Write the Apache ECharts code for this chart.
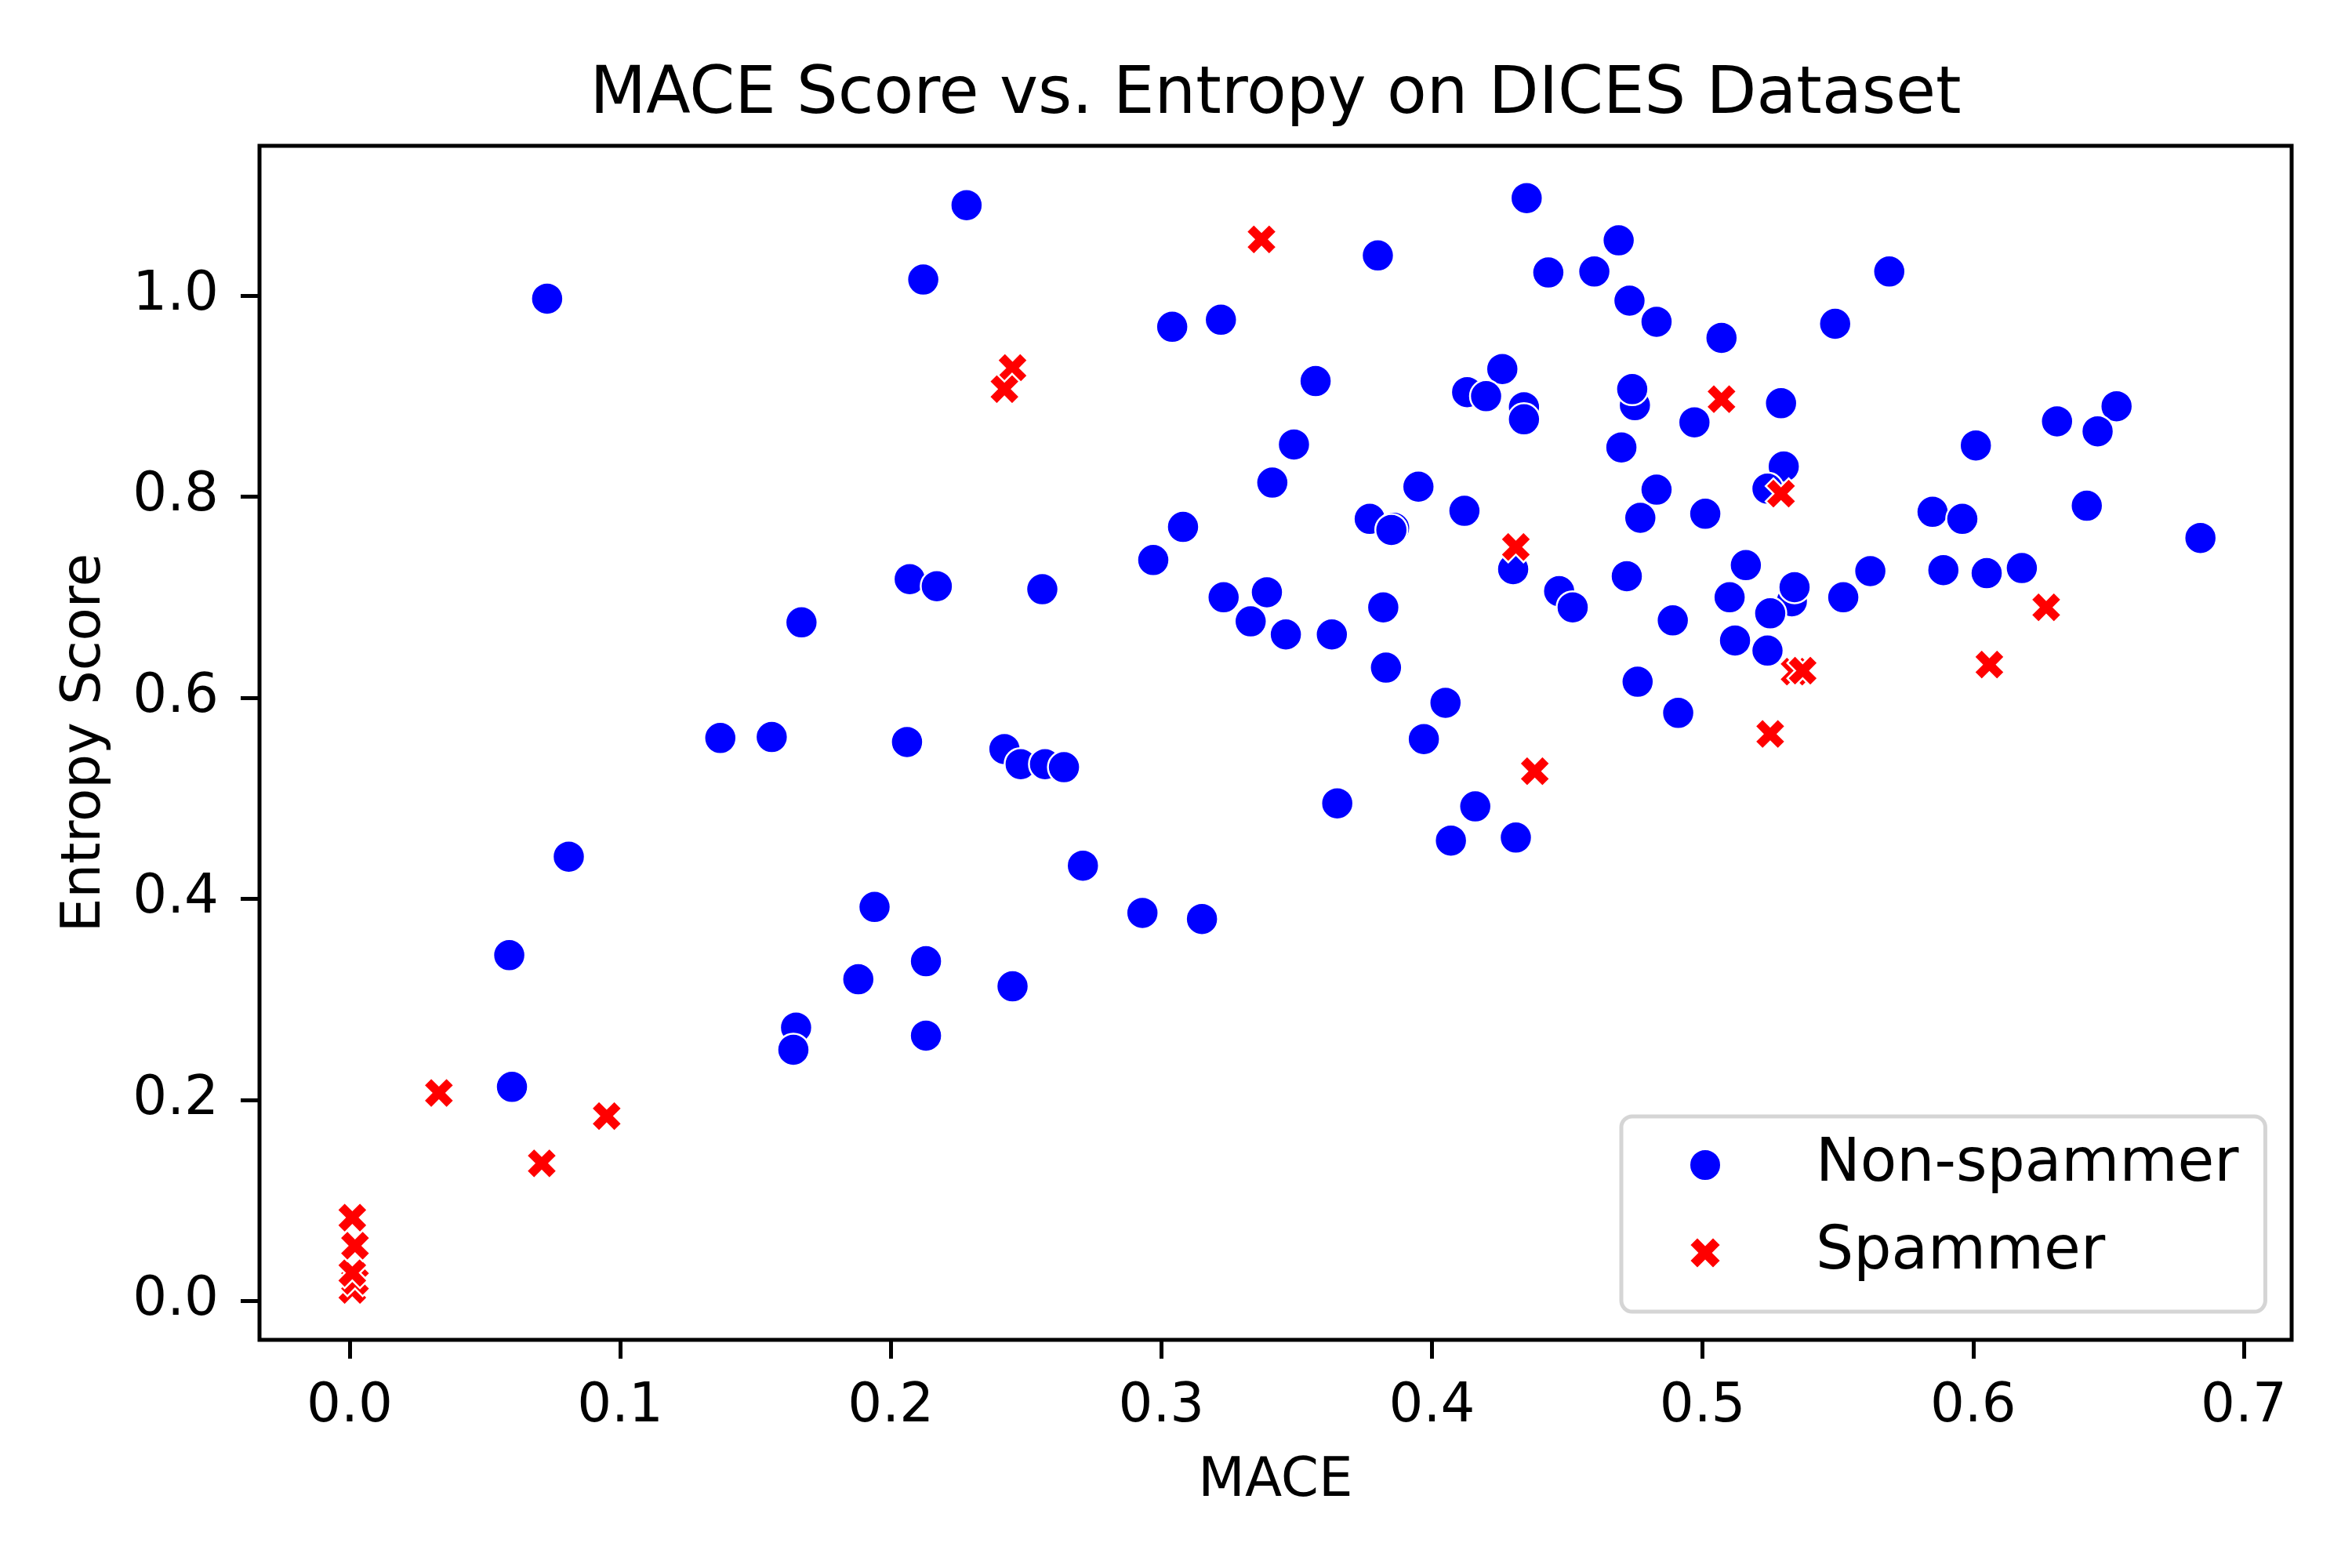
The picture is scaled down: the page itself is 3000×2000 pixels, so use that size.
<!DOCTYPE html>
<html>
<meta charset="UTF-8">
<title>mace-entropy</title>
<style type="text/css">
    html,
    body {
        margin: 0px;
        width: 100%;
        height: 100%;
        background: #fff;
    }

    #chart {
        width: 3000px;
        height: 2000px;
    }
</style>
<script src="https://cdn.jsdelivr.net/npm/echarts@6/dist/echarts.min.js"></script>

<body>
    <div id="chart"></div>
    <script>
        const nonSpamMace = [
            0.073, 0.212, 0.207, 0.217, 0.167, 0.137, 0.156, 0.206, 0.081, 0.194,
            0.059, 0.213, 0.188, 0.165, 0.164, 0.213, 0.060, 0.228, 0.435, 0.380,
            0.443, 0.460, 0.304, 0.322, 0.357, 0.426, 0.413, 0.420, 0.434, 0.434,
            0.349, 0.341, 0.395, 0.412, 0.377, 0.386, 0.385, 0.308, 0.297, 0.430,
            0.447, 0.452, 0.256, 0.323, 0.339, 0.333, 0.346, 0.363, 0.382, 0.383,
            0.405, 0.397, 0.242, 0.248, 0.257, 0.264, 0.365, 0.416, 0.407, 0.431,
            0.271, 0.293, 0.315, 0.245, 0.469, 0.569, 0.473, 0.483, 0.507, 0.549,
            0.475, 0.474, 0.529, 0.497, 0.470, 0.530, 0.524, 0.483, 0.477, 0.501,
            0.472, 0.516, 0.510, 0.533, 0.534, 0.525, 0.489, 0.552, 0.562, 0.585,
            0.596, 0.601, 0.631, 0.653, 0.646, 0.642, 0.684, 0.589, 0.605, 0.618,
            0.512, 0.524, 0.476, 0.491
        ];
        const nonSpamEntropy = [
            0.997, 1.016, 0.718, 0.711, 0.675, 0.560, 0.561, 0.556, 0.442, 0.392,
            0.344, 0.338, 0.320, 0.272, 0.250, 0.264, 0.213, 1.090, 1.097, 1.040,
            1.023, 1.024, 0.969, 0.976, 0.915, 0.927, 0.904, 0.900, 0.889, 0.877,
            0.852, 0.814, 0.810, 0.786, 0.778, 0.769, 0.767, 0.770, 0.737, 0.728,
            0.706, 0.690, 0.708, 0.700, 0.705, 0.676, 0.663, 0.663, 0.690, 0.630,
            0.595, 0.559, 0.549, 0.534, 0.534, 0.531, 0.495, 0.492, 0.458, 0.461,
            0.433, 0.386, 0.380, 0.313, 1.055, 1.024, 0.995, 0.974, 0.958, 0.972,
            0.891, 0.907, 0.893, 0.874, 0.849, 0.830, 0.808, 0.807, 0.779, 0.783,
            0.721, 0.732, 0.700, 0.696, 0.710, 0.684, 0.677, 0.700, 0.726, 0.785,
            0.778, 0.851, 0.875, 0.890, 0.865, 0.791, 0.759, 0.727, 0.724, 0.729,
            0.657, 0.647, 0.616, 0.585
        ];
        const spamMace = [
            0.001, 0.002, 0.001, 0.002, 0.001, 0.033, 0.095, 0.071, 0.337, 0.245,
            0.242, 0.431, 0.438, 0.507, 0.529, 0.534, 0.537, 0.627, 0.606, 0.525
        ];
        const spamEntropy = [
            0.011, 0.020, 0.028, 0.055, 0.083, 0.207, 0.184, 0.137, 1.056, 0.928,
            0.907, 0.750, 0.527, 0.897, 0.803, 0.626, 0.627, 0.690, 0.633, 0.564
        ];
        const xTicks = [0, 0.1, 0.2, 0.3, 0.4, 0.5, 0.6, 0.7];
        const yTicks = [0, 0.2, 0.4, 0.6, 0.8, 1.0];

        const font = 'DejaVu Sans';
        // matplotlib filled 'X' marker
        const xMarker = 'path://M1 0L2 1L3 0L4 1L3 2L4 3L3 4L2 3L1 4L0 3L1 2L0 1Z';

        const zip = (a, b) => a.map((v, i) => [v, b[i]]);

        const chart = echarts.init(document.getElementById('chart'));

        const options = {
            animation: false,
            backgroundColor: '#fff',
            title: {
                text: 'MACE Score vs. Entropy on DICES Dataset',
                left: 1627,
                top: 81,
                padding: 0,
                textAlign: 'center',
                textStyle: { fontFamily: font, fontSize: 83, fontWeight: 'normal', color: '#000' }
            },
            grid: {
                left: 331, right: 77, top: 186, bottom: 291,
                show: true, borderColor: '#000', borderWidth: 5
            },
            legend: {
                orient: 'vertical',
                left: 2068,
                top: 1424,
                padding: [24, 34, 37, 86],
                itemWidth: 80,
                itemHeight: 40,
                itemGap: 36,
                borderColor: '#d5d5d5',
                borderWidth: 5,
                borderRadius: 14,
                backgroundColor: '#fff',
                textStyle: { fontFamily: font, fontSize: 76, lineHeight: 76, color: '#000', padding: [0, 0, 0, 96] },
                data: ['Non-spammer', 'Spammer']
            },
            xAxis: {
                type: 'value',
                min: -0.0333,
                max: 0.7177,
                name: 'MACE',
                nameLocation: 'middle',
                nameGap: 147,
                nameTextStyle: { fontFamily: font, fontSize: 69, color: '#000' },
                axisLine: { show: false, onZero: false },
                axisTick: { show: true, length: 24, lineStyle: { color: '#000', width: 5 }, customValues: xTicks },
                axisLabel: {
                    margin: 52, fontFamily: font, fontSize: 69, color: '#000',
                    customValues: xTicks, formatter: v => v.toFixed(1)
                },
                splitLine: { show: false }
            },
            yAxis: {
                type: 'value',
                min: -0.0386,
                max: 1.149,
                name: 'Entropy Score',
                nameLocation: 'middle',
                nameGap: 187,
                nameTextStyle: { fontFamily: font, fontSize: 69, color: '#000' },
                axisLine: { show: false, onZero: false },
                axisTick: { show: true, length: 24, lineStyle: { color: '#000', width: 5 }, customValues: yTicks },
                axisLabel: {
                    margin: 52, fontFamily: font, fontSize: 69, color: '#000',
                    customValues: yTicks, formatter: v => v.toFixed(1)
                },
                splitLine: { show: false }
            },
            series: [
                {
                    name: 'Non-spammer',
                    type: 'scatter',
                    symbol: 'circle',
                    symbolSize: 41,
                    itemStyle: { color: '#0000ff', borderColor: '#fff', borderWidth: 2.5, opacity: 1 },
                    data: zip(nonSpamMace, nonSpamEntropy)
                },
                {
                    name: 'Spammer',
                    type: 'scatter',
                    symbol: xMarker,
                    symbolSize: 39,
                    itemStyle: { color: '#ff0000', borderColor: '#fff', borderWidth: 2.5, opacity: 1 },
                    data: zip(spamMace, spamEntropy)
                }
            ]
        };
        chart.setOption(options);
    </script>
</body>

</html>
